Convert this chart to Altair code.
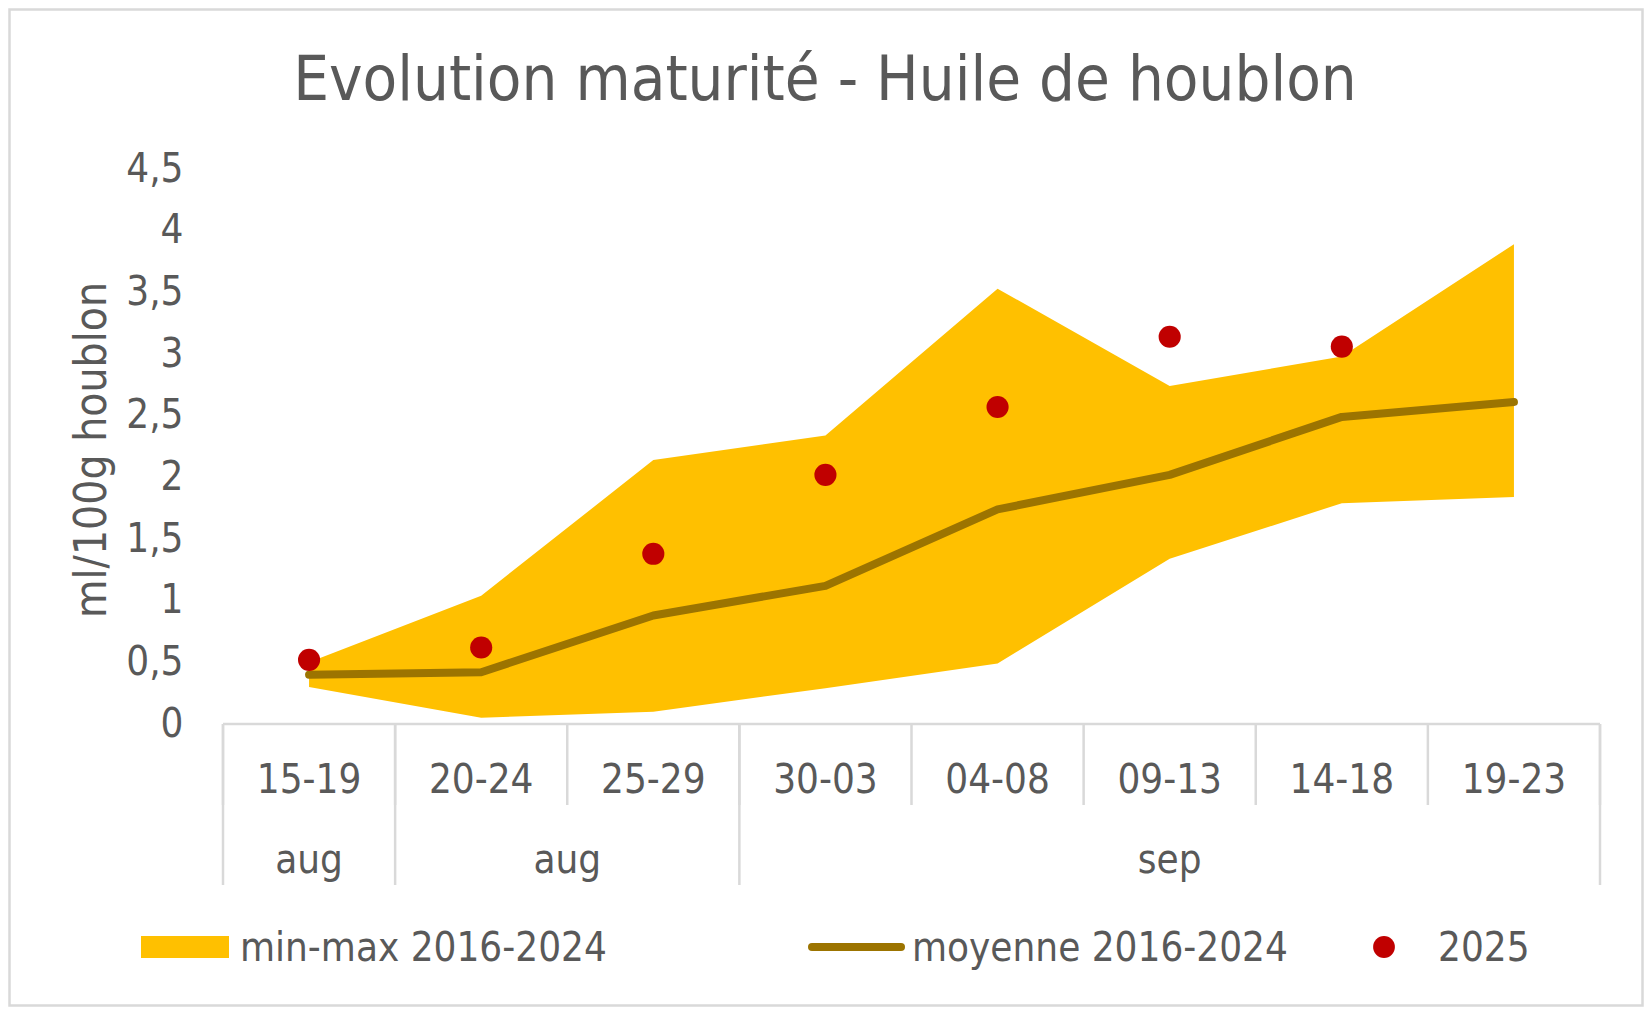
import altair as alt
import pandas as pd

# ---------------- data ----------------
categories = ["15-19", "20-24", "25-29", "30-03", "04-08", "09-13", "14-18", "19-23"]
band_min = [0.30, 0.05, 0.10, 0.29, 0.49, 1.34, 1.79, 1.84]
band_max = [0.50, 1.04, 2.14, 2.34, 3.53, 2.74, 2.98, 3.89]
mean_vals = [0.40, 0.42, 0.88, 1.12, 1.74, 2.02, 2.49, 2.61]
vals_2025 = [0.52, 0.62, 1.38, 2.02, 2.57, 3.14, 3.06, None]
month_labels = ["aug", "aug", "sep"]
month_start = [0, 1, 3]
month_end = [1, 3, 8]
y_ticks = [0, 0.5, 1, 1.5, 2, 2.5, 3, 3.5, 4, 4.5]

TITLE = "Evolution maturité - Huile de houblon"
Y_TITLE = "ml/100g houblon"
LEG_BAND = "min-max 2016-2024"
LEG_MEAN = "moyenne 2016-2024"
LEG_2025 = "2025"

# ---------------- style ----------------
FONT = "DejaVu Sans Condensed, DejaVu Sans"
TXT = "#595959"
GRID = "#D9D9D9"
C_BAND = "#FFC000"
C_MEAN = "#9C7400"
C_DOT = "#C00000"
W, H = 1377, 555
PAD = {"left": 215, "top": 161, "right": 44, "bottom": 283}

n = len(categories)
df = pd.DataFrame({
    "cat": categories,
    "pos": [i + 0.5 for i in range(n)],
    "lo": band_min,
    "hi": band_max,
    "mean": mean_vals,
    "v2025": vals_2025,
})
df_pts = df.dropna(subset=["v2025"])

xs = alt.Scale(domain=[0, n], nice=False, zero=False)
ys = alt.Scale(domain=[0, 4.5], nice=False, zero=True)
y_axis = alt.Axis(
    values=y_ticks, labelExpr="replace(toString(datum.value), '.', ',')",
    domain=False, ticks=False, grid=False, labelPadding=40,
    labelFont=FONT, labelFontSize=40, labelColor=TXT,
    title=Y_TITLE, titleFont=FONT, titleFontSize=44, titleColor=TXT,
    titleFontWeight="normal", titleX=-118, titleY=H / 2 + 3,
    titleAngle=-90, titleBaseline="alphabetic", titleAlign="center",
)

one = pd.DataFrame({"k": [0]})

border = alt.Chart(one).mark_rect(fill=None, stroke=GRID, strokeWidth=2.5).encode(
    x=alt.value(-PAD["left"] + 1.5), x2=alt.value(W + PAD["right"] - 1.5),
    y=alt.value(-PAD["top"] + 1.5), y2=alt.value(H + PAD["bottom"] - 1.5),
)

band = alt.Chart(df).mark_area(color=C_BAND, opacity=1).encode(
    x=alt.X("pos:Q", scale=xs, axis=None),
    y=alt.Y("hi:Q", scale=ys, axis=y_axis),
    y2="lo:Q",
)

mean_line = alt.Chart(df).mark_line(
    color=C_MEAN, strokeWidth=8, strokeCap="round", strokeJoin="round"
).encode(
    x=alt.X("pos:Q", scale=xs, axis=None),
    y=alt.Y("mean:Q", scale=ys, axis=y_axis),
)

pts = alt.Chart(df_pts).mark_circle(size=490, color=C_DOT, opacity=1).encode(
    x=alt.X("pos:Q", scale=xs, axis=None),
    y=alt.Y("v2025:Q", scale=ys, axis=y_axis),
)

# ---------- two-level category axis ----------
axis_df = pd.DataFrame({"a": [0], "b": [n]})
axis_line = alt.Chart(axis_df).mark_rule(color=GRID, strokeWidth=2.5).encode(
    x=alt.X("a:Q", scale=xs, axis=None), x2="b:Q", y=alt.value(H),
)

bounds_df = pd.DataFrame({"b": list(range(n + 1))})
div_short = alt.Chart(bounds_df).mark_rule(color=GRID, strokeWidth=2.5).encode(
    x=alt.X("b:Q", scale=xs, axis=None), y=alt.value(H), y2=alt.value(H + 81),
)
month_bounds = pd.DataFrame({"b": sorted(set(month_start + month_end))})
div_long = alt.Chart(month_bounds).mark_rule(color=GRID, strokeWidth=2.5).encode(
    x=alt.X("b:Q", scale=xs, axis=None), y=alt.value(H), y2=alt.value(H + 161),
)

cat_text = alt.Chart(df).mark_text(
    font=FONT, fontSize=40, color=TXT, baseline="alphabetic", align="center"
).encode(
    x=alt.X("pos:Q", scale=xs, axis=None), y=alt.value(H + 69), text="cat:N",
)

mdf = pd.DataFrame({
    "m": month_labels,
    "mid": [(s + e) / 2 for s, e in zip(month_start, month_end)],
})
month_text = alt.Chart(mdf).mark_text(
    font=FONT, fontSize=40, color=TXT, baseline="alphabetic", align="center"
).encode(
    x=alt.X("mid:Q", scale=xs, axis=None), y=alt.value(H + 149), text="m:N",
)

# ---------- title ----------
title = alt.Chart(pd.DataFrame({"t": [TITLE]})).mark_text(
    font=FONT, fontSize=63, color=TXT, baseline="alphabetic", align="center"
).encode(x=alt.value(602), y=alt.value(-69), text="t:N")

# ---------- legend ----------
LY = H + 223
leg_rect = alt.Chart(one).mark_rect(color=C_BAND).encode(
    x=alt.value(-82), x2=alt.value(6), y=alt.value(LY - 11), y2=alt.value(LY + 11),
)
leg_line = alt.Chart(one).mark_rule(color=C_MEAN, strokeWidth=8, strokeCap="round").encode(
    x=alt.value(589), x2=alt.value(678), y=alt.value(LY),
)
leg_dot = alt.Chart(one).mark_circle(size=475, color=C_DOT, opacity=1).encode(
    x=alt.value(1161), y=alt.value(LY),
)
leg_df = pd.DataFrame({"t": [LEG_BAND, LEG_MEAN, LEG_2025], "lx": [17, 689, 1215]})
leg_text = alt.Chart(leg_df).mark_text(
    font=FONT, fontSize=40, color=TXT, baseline="alphabetic", align="left"
).encode(
    x=alt.X("lx:Q", scale=None), y=alt.value(LY + 14), text="t:N",
)

chart = alt.layer(
    border, band, mean_line, pts, axis_line, div_short, div_long,
    cat_text, month_text, title, leg_rect, leg_line, leg_dot, leg_text,
).properties(
    width=W, height=H,
    padding=PAD,
    autosize=alt.AutoSizeParams(type="none"),
    background="white",
).configure_view(stroke=None)

chart.save("out.html", embed_options={"renderer": "svg", "actions": False})
